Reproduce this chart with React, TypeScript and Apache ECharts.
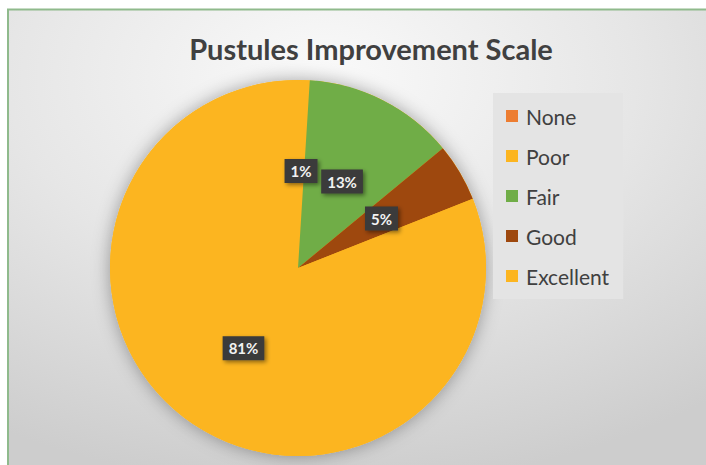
import React, { useEffect, useRef } from "react";
import * as echarts from "echarts";

const categories = ["None", "Poor", "Fair", "Good", "Excellent"];
const values = [0, 1, 13, 5, 81];
const colors = ["#ED7D31", "#FCB520", "#70AD47", "#9E480E", "#FCB520"];
const titleText = "Pustules Improvement Scale";

export default function App() {
  const ref = useRef<HTMLDivElement>(null);
  useEffect(() => {
    document.body.style.margin = "0";
    const chart = echarts.init(ref.current!, null, { renderer: "svg" });
    const font = "Lato, 'Open Sans', sans-serif";
    chart.setOption({
      animation: false,
      backgroundColor: "#ffffff",
      graphic: [
        {
          type: "rect",
          z: -10,
          shape: { x: 8, y: 9, width: 698, height: 456 },
          style: {
            fill: new echarts.graphic.RadialGradient(0.45, 0.15, 0.9, [
              { offset: 0, color: "#fafafa" },
              { offset: 0.5, color: "#e6e6e6" },
              { offset: 1, color: "#cdcdcd" },
            ]),
          },
        },
        {
          type: "line",
          z: -5,
          shape: { x1: 7, y1: 9.5, x2: 706, y2: 9.5 },
          style: { stroke: "#8fba8c", lineWidth: 2 },
        },
        {
          type: "line",
          z: -5,
          shape: { x1: 8, y1: 9, x2: 8, y2: 465 },
          style: { stroke: "#8fba8c", lineWidth: 2 },
        },
      ],
      title: {
        text: titleText,
        left: 366,
        textAlign: "center",
        top: 29,
        textStyle: {
          fontFamily: font,
          fontWeight: "bold",
          fontSize: 29,
          color: "#404040",
        },
      },
      legend: {
        orient: "vertical",
        left: 493,
        top: 93,
        data: categories,
        icon: "rect",
        itemWidth: 12,
        itemHeight: 12,
        itemGap: 18,
        padding: [12, 14, 12, 13],
        backgroundColor: "#e4e4e4",
        selectedMode: false,
        textStyle: {
          fontFamily: font,
          fontSize: 21,
          lineHeight: 22,
          color: "#404040",
          padding: [0, 0, 0, 3],
        },
      },
      series: [
        {
          type: "pie",
          name: "shadow",
          silent: true,
          z: 1,
          center: [298, 268],
          radius: 188,
          label: { show: false },
          data: [{ value: 1, name: "_bg" }],
          itemStyle: {
            color: "#FCB520",
            shadowBlur: 18,
            shadowColor: "rgba(0,0,0,0.35)",
          },
        },
        {
          type: "pie",
          name: "Pustules",
          z: 2,
          center: [298, 268],
          radius: 188,
          startAngle: 90,
          clockwise: true,
          data: categories.map((c, i) => ({
            name: c,
            value: values[i],
            itemStyle: { color: colors[i] },
            label: { show: values[i] > 0 },
          })),
          label: {
            show: true,
            position: "inside",
            formatter: (p: any) => `${p.value}%`,
            fontFamily: font,
            fontWeight: "bold",
            fontSize: 15,
            lineHeight: 15,
            color: "#f2f2f2",
            backgroundColor: "#3a3a3a",
            padding: [5, 6, 4, 6],
            shadowBlur: 4,
            shadowOffsetX: 2,
            shadowOffsetY: 2,
            shadowColor: "rgba(0,0,0,0.45)",
          },
          labelLine: { show: false },
          itemStyle: { borderWidth: 0 },
        },
      ],
    });
    return () => chart.dispose();
  }, []);
  return <div ref={ref} style={{ width: 706, height: 465 }} />;
}
